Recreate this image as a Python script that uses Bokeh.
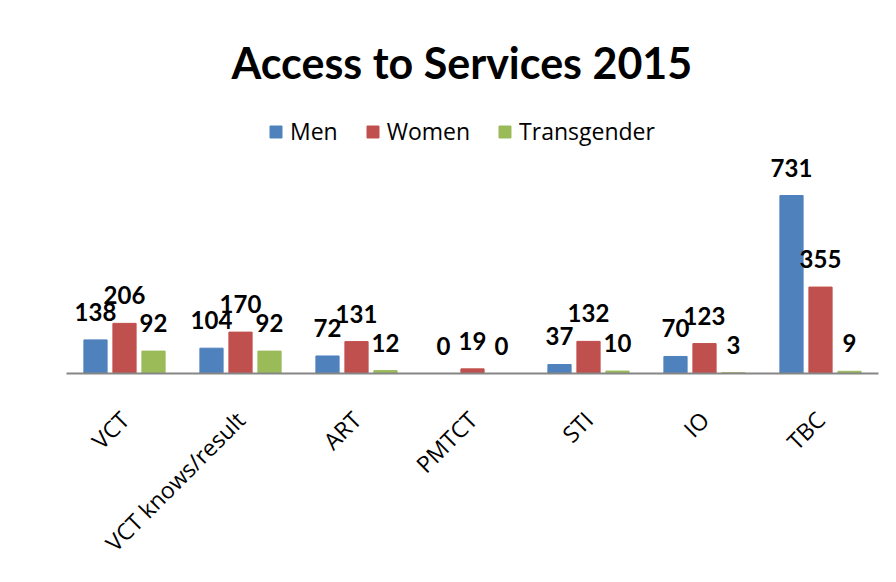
import math
from bokeh.plotting import figure
from bokeh.models import FactorRange, Range1d, ColumnDataSource, Legend, LegendItem, Title
from bokeh.transform import dodge
from bokeh.core.properties import value
from bokeh.embed import file_html
from bokeh.resources import INLINE

categories = ["VCT", "VCT knows/result", "ART", "PMTCT", "STI", "IO", "TBC"]
men = [138, 104, 72, 0, 37, 70, 731]
women = [206, 170, 131, 19, 132, 123, 355]
transgender = [92, 92, 12, 0, 10, 3, 9]
series_names = ["Men", "Women", "Transgender"]
colors = ["#4F81BD", "#C0504D", "#9BBB59"]

src = ColumnDataSource(dict(
    cats=categories, men=men, women=women, transgender=transgender,
    men_t=[str(v) for v in men], women_t=[str(v) for v in women],
    transgender_t=[str(v) for v in transgender],
))

# frame: x 65.5..877.5, y 112..373 (page px); 0.2435 px per unit
p = figure(width=890, height=578, x_range=FactorRange(factors=categories),
           y_range=Range1d(0, 1072), output_backend="svg", toolbar_location=None,
           min_border_left=66, min_border_right=12, min_border_top=112,
           min_border_bottom=205, title=None)
p.background_fill_color = "white"
p.border_fill_color = "white"
p.outline_line_color = None
p.xgrid.grid_line_color = None
p.ygrid.grid_line_color = None
p.yaxis.visible = False

p.add_layout(Title(text="Access to Services 2015", text_font="Lato",
                   text_font_size="43px", text_font_style="bold", align="left",
                   offset=165, standoff=49, text_color="black"), "above")

cols = ["men", "women", "transgender"]
offsets = [-0.25, 0.0, 0.25]
items = []
for col, off, c, name in zip(cols, offsets, colors, series_names):
    r = p.vbar(x=dodge("cats", off, range=p.x_range), top=col, width=0.2,
               source=src, fill_color=c, line_color=c, line_width=1)
    items.append(LegendItem(label=name, renderers=[r]))
    p.text(x=dodge("cats", off, range=p.x_range), y=col, text=col + "_t",
           source=src, text_align="center", text_baseline="alphabetic",
           y_offset=-28, text_font=value("Lato"), text_font_size="24px",
           text_font_style="bold", text_color="black")

legend = Legend(items=items, orientation="horizontal", location=(202, 226),
                margin=0, padding=12, spacing=27, label_standoff=7,
                glyph_width=15, glyph_height=15, border_line_color=None,
                background_fill_alpha=0, label_text_font="Open Sans",
                label_text_font_size="23px", label_text_color="black")
p.add_layout(legend, "center")

p.xaxis.axis_line_color = "#868686"
p.xaxis.axis_line_width = 2
p.xaxis.major_tick_line_color = None
p.xaxis.minor_tick_line_color = None
p.xaxis.major_label_orientation = math.pi / 4
p.xaxis.major_label_standoff = 36
p.xaxis.major_label_text_font = "Open Sans"
p.xaxis.major_label_text_font_size = "23px"
p.xaxis.major_label_text_color = "black"

open("out.html", "w").write(file_html(p, INLINE))
